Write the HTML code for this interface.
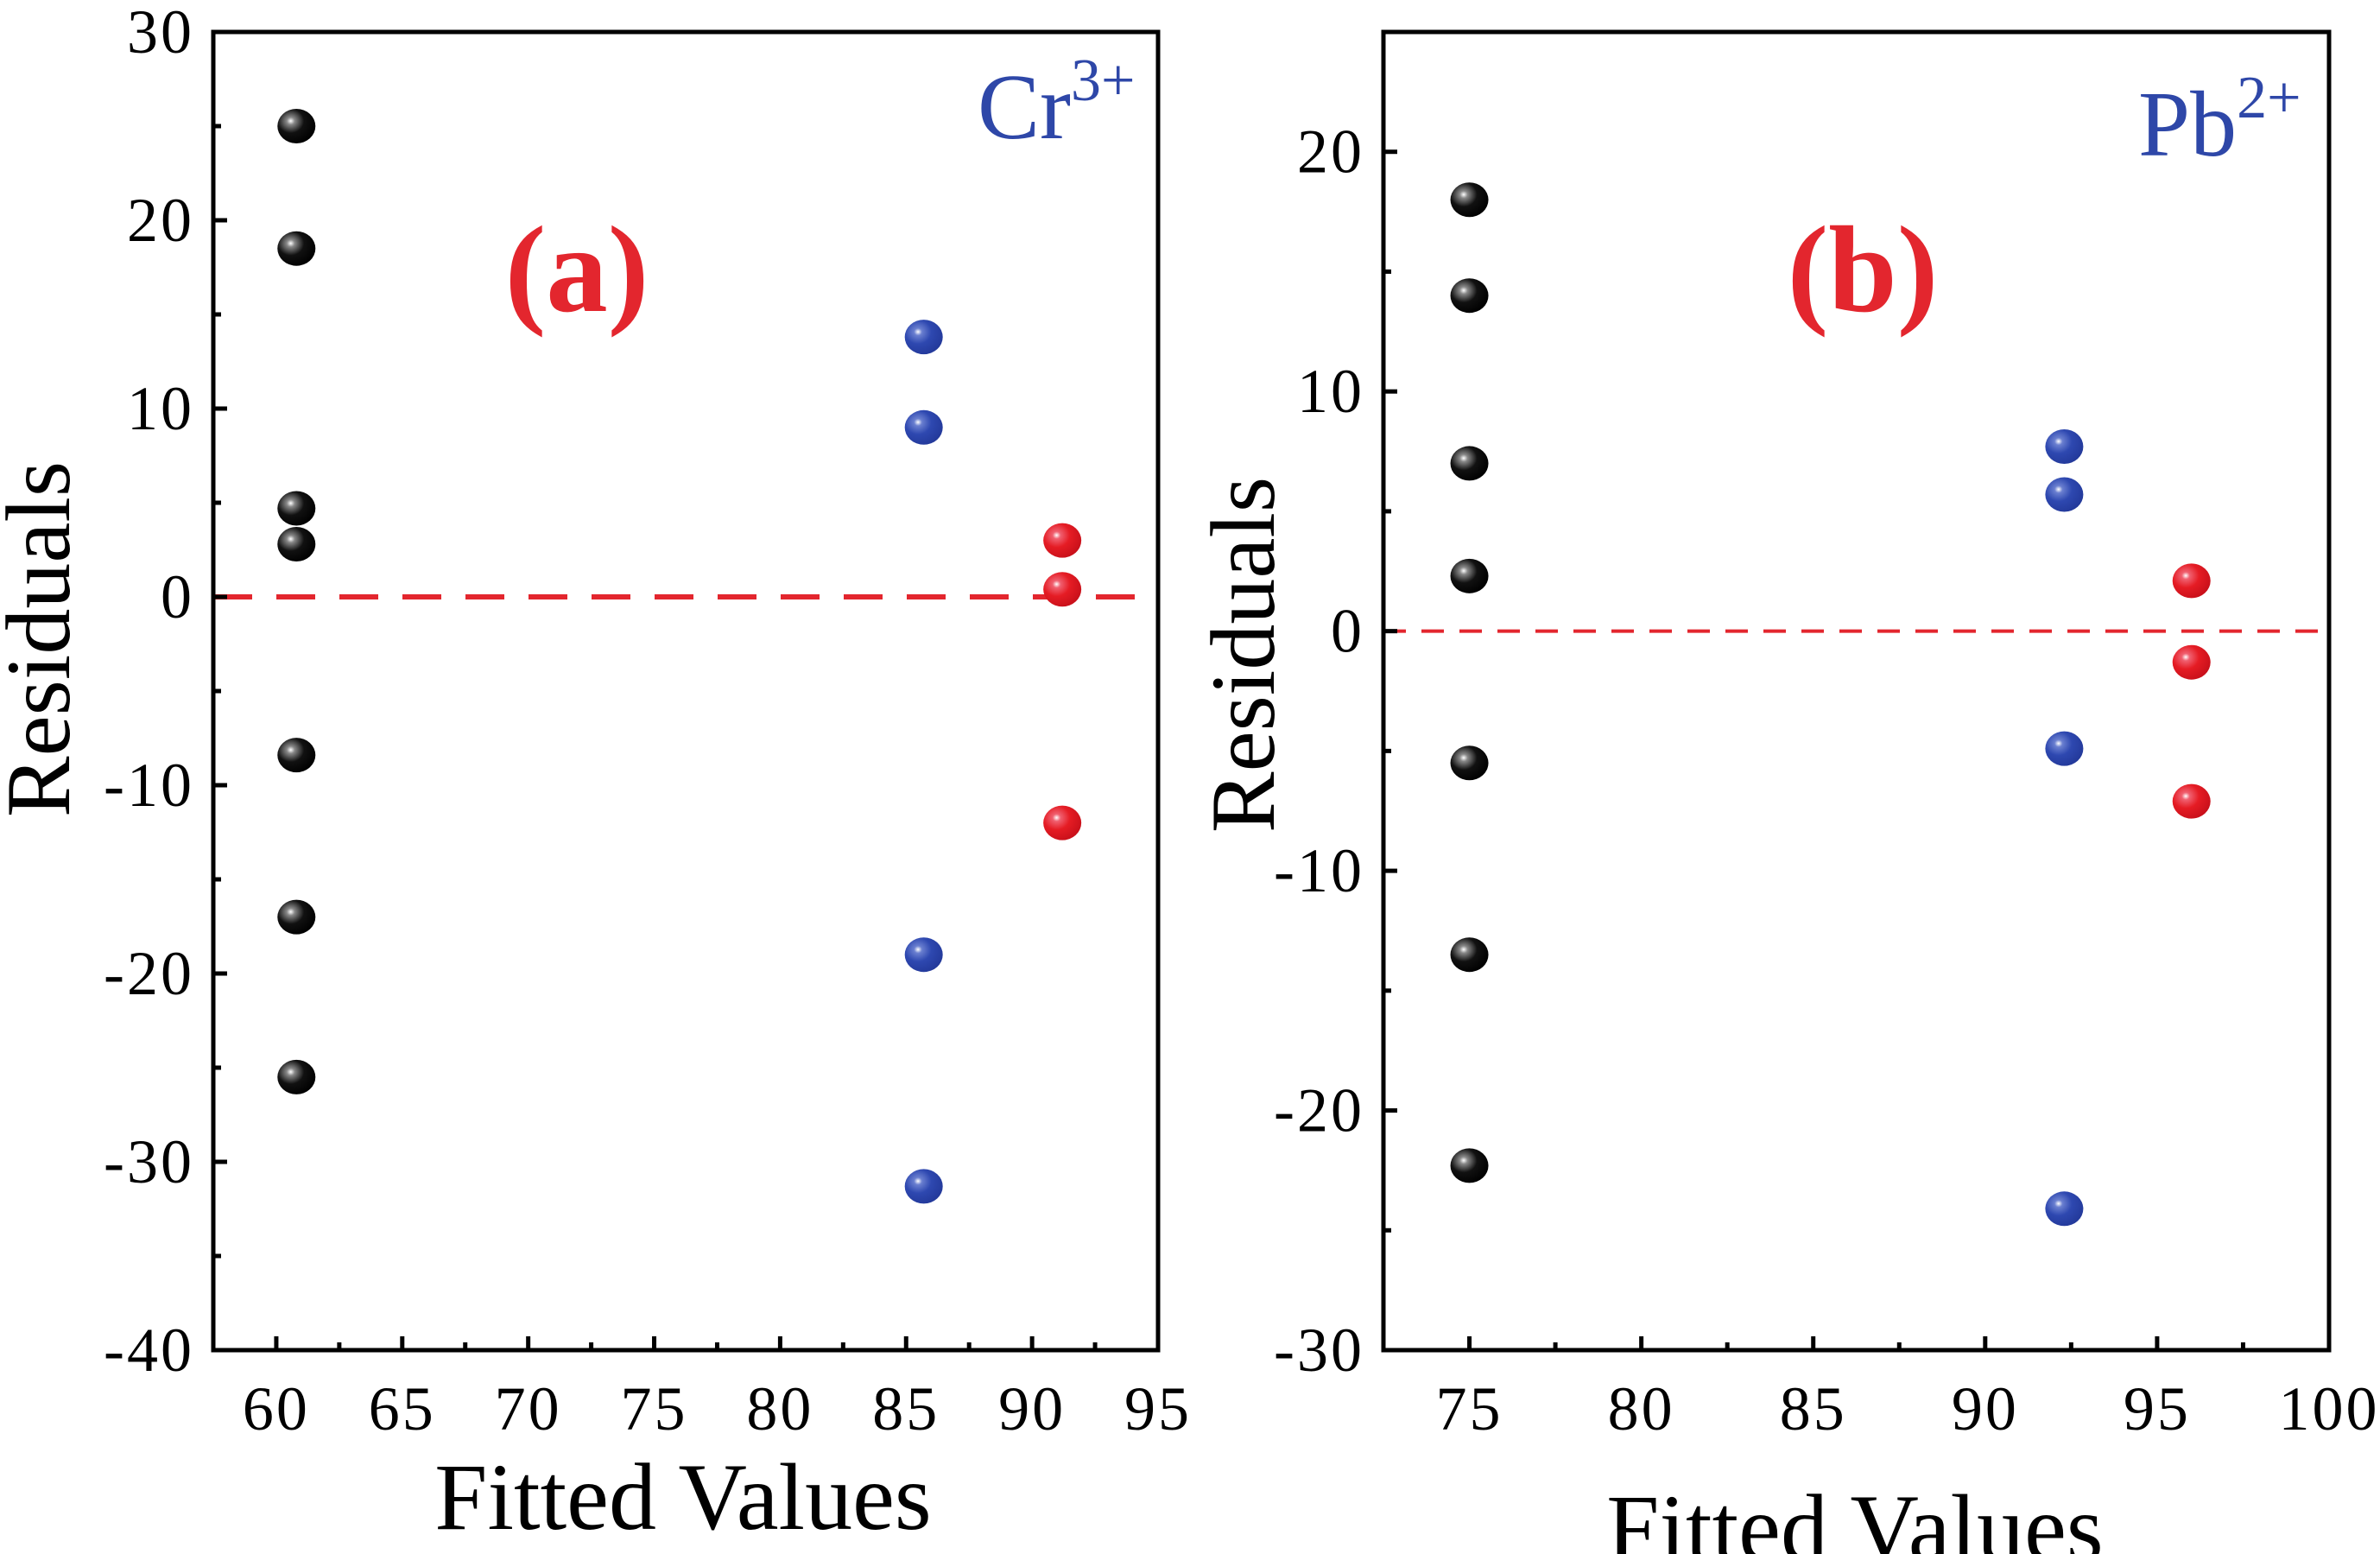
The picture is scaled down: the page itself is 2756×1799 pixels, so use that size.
<!DOCTYPE html>
<html><head><meta charset="utf-8"><style>
html,body{margin:0;padding:0;background:#fff;}
svg{display:block;font-family:"Liberation Serif",serif;}
</style></head><body>
<svg id="chart" width="2756" height="1799" viewBox="0 0 2756 1799" xmlns="http://www.w3.org/2000/svg">
<defs>
<radialGradient id="gk" cx="0.35" cy="0.35" r="0.7"><stop offset="0" stop-color="#fff"/><stop offset="0.15" stop-color="#888"/><stop offset="0.5" stop-color="#111"/><stop offset="1" stop-color="#000"/></radialGradient>
<radialGradient id="gb" cx="0.35" cy="0.35" r="0.7"><stop offset="0" stop-color="#fff"/><stop offset="0.15" stop-color="#6a7fd0"/><stop offset="0.5" stop-color="#2e48b0"/><stop offset="1" stop-color="#23399a"/></radialGradient>
<radialGradient id="gr" cx="0.35" cy="0.35" r="0.7"><stop offset="0" stop-color="#fff"/><stop offset="0.15" stop-color="#f06070"/><stop offset="0.5" stop-color="#e51c24"/><stop offset="1" stop-color="#c8101a"/></radialGradient>
</defs>
</svg>
<script>
// Panel (a) Cr3+
const aBlackX = [60.8,60.8,60.8,60.8,60.8,60.8,60.8];
const aBlackY = [25,18.5,4.7,2.8,-8.4,-17,-25.5];
const aBlueX = [85.7,85.7,85.7,85.7];
const aBlueY = [13.8,9,-19,-31.3];
const aRedX = [91.2,91.2,91.2];
const aRedY = [3,0.4,-12];
const aXTicks = [60,65,70,75,80,85,90,95];
const aYTicks = [30,20,10,0,-10,-20,-30,-40];
// Panel (b) Pb2+
const bBlackX = [75,75,75,75,75,75,75];
const bBlackY = [18,14,7,2.3,-5.5,-13.5,-22.3];
const bBlueX = [92.3,92.3,92.3,92.3];
const bBlueY = [7.7,5.7,-4.9,-24.1];
const bRedX = [96,96,96];
const bRedY = [2.1,-1.3,-7.1];
const bXTicks = [75,80,85,90,95,100];
const bYTicks = [20,10,0,-10,-20,-30];

const svg = document.getElementById('chart');
const NS = 'http://www.w3.org/2000/svg';
function mk(tag, attrs, parent, text){
  const e = document.createElementNS(NS, tag);
  for (const k in attrs) e.setAttribute(k, attrs[k]);
  if (text !== undefined) e.textContent = text;
  (parent||svg).appendChild(e);
  return e;
}
function panel(id, box, xr, yr, xt, yt, xminor, yminor, series, label, ion, sup, dashW, dash, ylabelPos, xlabelPos, labelPos, ionPos){
  const g = mk('g', {});
  
  
  const sx = v => box.l + (v - xr[0]) / (xr[1] - xr[0]) * (box.r - box.l);
  const sy = v => box.b - (v - yr[0]) / (yr[1] - yr[0]) * (box.b - box.t);
  const zl = mk('line', {x1: box.l, x2: box.r, y1: sy(0), y2: sy(0), stroke: '#e3262e', 'stroke-width': dashW, 'stroke-dasharray': dash}, g);
  
  
  xt.forEach(v => {
    const t = mk('line', {x1: sx(v), x2: sx(v), y1: box.b, y2: box.b - 16, stroke: '#000', 'stroke-width': 5}, g);
    
    
    const l = mk('text', {x: sx(v), y: box.b + 92, 'font-size': 72, 'text-anchor': 'middle', 'letter-spacing': 3}, g, v);
    
    
  });
  xminor.forEach(v => {
    const t = mk('line', {x1: sx(v), x2: sx(v), y1: box.b, y2: box.b - 9, stroke: '#000', 'stroke-width': 5}, g);
    
    
  });
  yt.forEach(v => {
    const t = mk('line', {x1: box.l, x2: box.l + 16, y1: sy(v), y2: sy(v), stroke: '#000', 'stroke-width': 5}, g);
    
    
    const l = mk('text', {x: box.l - 22, y: sy(v) + 24, 'font-size': 72, 'text-anchor': 'end', 'letter-spacing': 3}, g, v);
    
    
  });
  yminor.forEach(v => {
    const t = mk('line', {x1: box.l, x2: box.l + 9, y1: sy(v), y2: sy(v), stroke: '#000', 'stroke-width': 5}, g);
    
    
  });
  series.forEach(s => {
    s.x.forEach((xv, i) => {
      const c = mk('ellipse', {cx: sx(xv), cy: sy(s.y[i]), rx: 22, ry: 20, fill: s.fill}, g);
      
      
    });
  });
  const fr = mk('rect', {x: box.l, y: box.t, width: box.r - box.l, height: box.b - box.t, fill: 'none', stroke: '#000', 'stroke-width': 5}, g);
  
  
  const yl = mk('text', {x: 0, y: 0, 'font-size': 106, 'text-anchor': 'middle', transform: 'translate(' + ylabelPos[0] + ',' + ylabelPos[1] + ') rotate(-90)'}, g, 'Residuals');
  
  
  const xl = mk('text', {x: xlabelPos[0], y: xlabelPos[1], 'font-size': 110, 'text-anchor': 'middle'}, g, 'Fitted Values');
  
  
  const pl = mk('text', {x: labelPos[0], y: labelPos[1], 'font-size': 143, 'font-weight': 'bold', fill: '#e3262e', 'text-anchor': 'middle'}, g, label);
  
  
  const it = mk('text', {x: ionPos[0], y: ionPos[1], 'font-size': 108, fill: '#2e47a8'}, g);
  
  
  mk('tspan', {}, it, ion);
  mk('tspan', {dy: -44, 'font-size': 70}, it, sup);
}
panel('a', {l: 247, r: 1341, t: 37, b: 1563}, [57.5, 95], [-40, 30], aXTicks, aYTicks,
  [62.5,67.5,72.5,77.5,82.5,87.5,92.5], [25,15,5,-5,-15,-25,-35],
  [{name: 'black', x: aBlackX, y: aBlackY, fill: 'url(#gk)'}, {name: 'blue', x: aBlueX, y: aBlueY, fill: 'url(#gb)'}, {name: 'red', x: aRedX, y: aRedY, fill: 'url(#gr)'}],
  '(a)', 'Cr', '3+', 6, '45 28', [80, 740], [791, 1770], [668, 360], [1132, 160]);
panel('b', {l: 1602, r: 2697, t: 37, b: 1563}, [72.5, 100], [-30, 25], bXTicks, bYTicks,
  [77.5,82.5,87.5,92.5,97.5], [15,5,-5,-15,-25],
  [{name: 'black', x: bBlackX, y: bBlackY, fill: 'url(#gk)'}, {name: 'blue', x: bBlueX, y: bBlueY, fill: 'url(#gb)'}, {name: 'red', x: bRedX, y: bRedY, fill: 'url(#gr)'}],
  '(b)', 'Pb', '2+', 4, '26 18', [1475, 758], [2148, 1806], [2157, 360], [2476, 180]);
</script>
</body></html>
